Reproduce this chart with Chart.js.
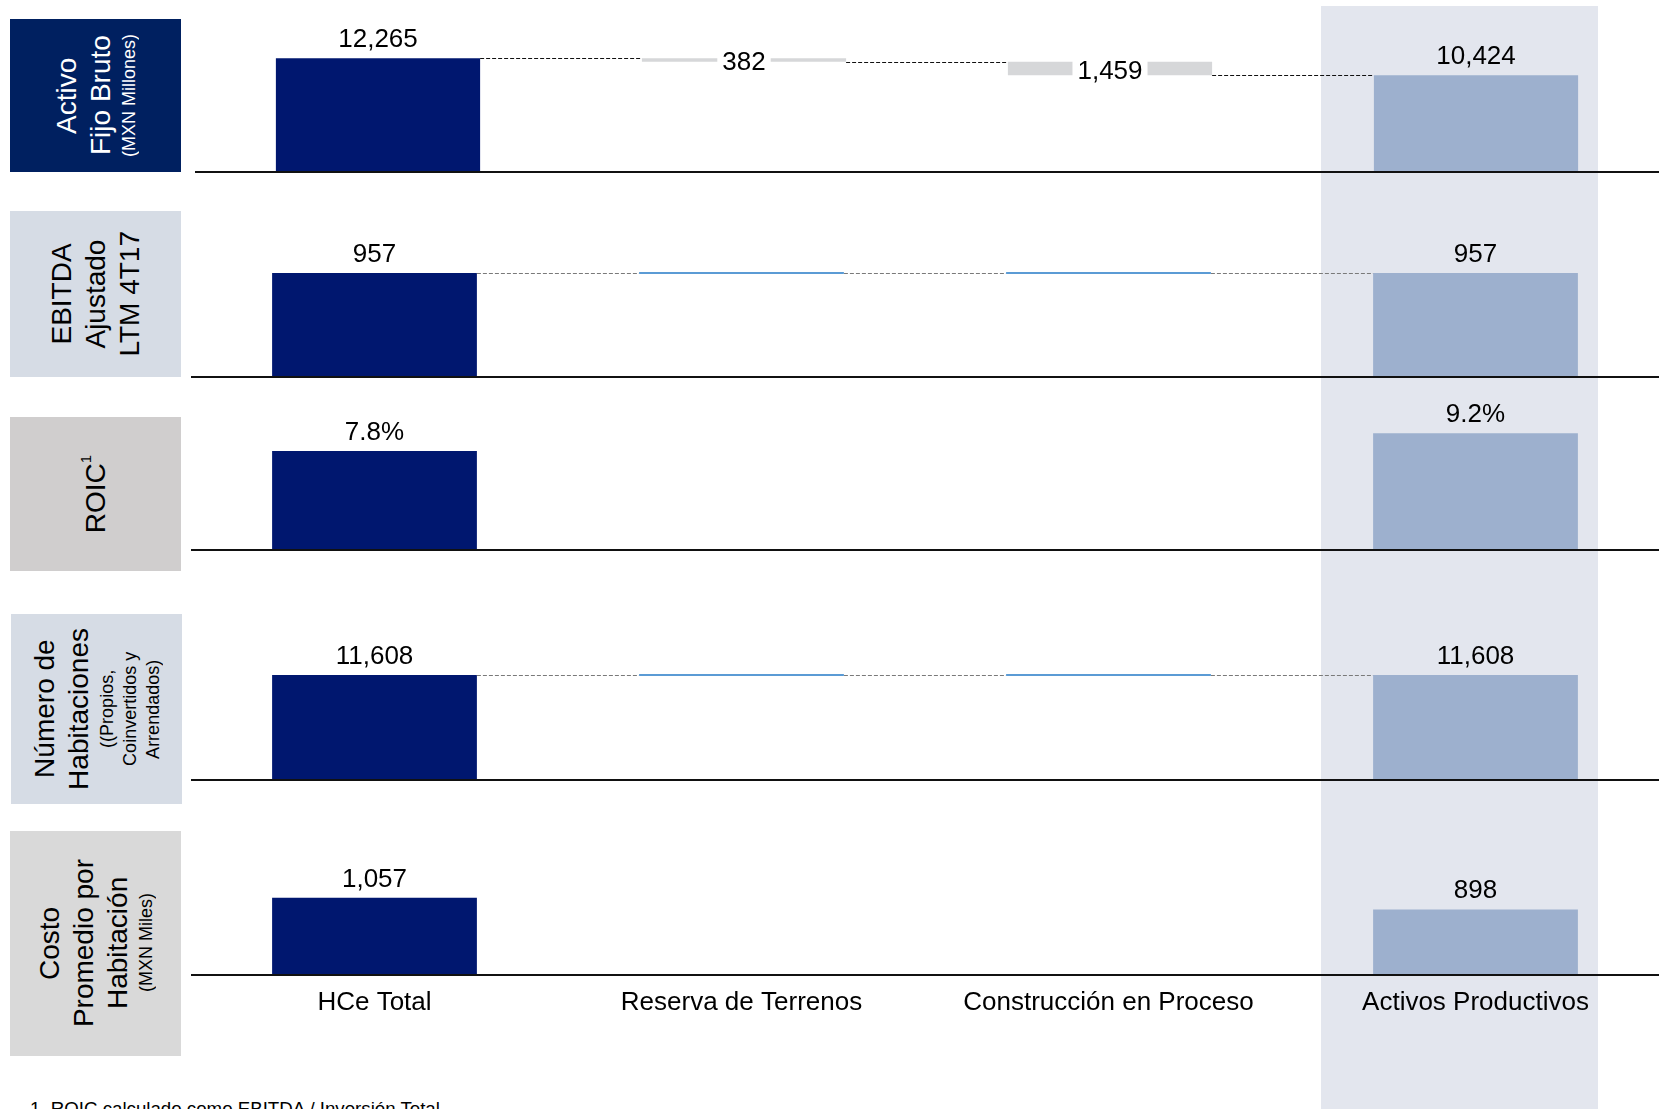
<!DOCTYPE html>
<html>
<head>
<meta charset="utf-8">
<script src="https://cdn.jsdelivr.net/npm/chart.js@4.4.1/dist/chart.umd.min.js"></script>
<style>
html,body{margin:0;padding:0;background:#fff;}
body{width:1664px;height:1109px;overflow:hidden;position:relative;font-family:"Liberation Sans",Arial,Helvetica,sans-serif;}
#band{position:absolute;left:1321px;top:6px;width:277px;height:1103px;background:#E3E6EE;}
canvas{position:absolute;}
.lbl{position:absolute;display:flex;align-items:center;justify-content:center;color:#000;}
.txt{writing-mode:vertical-rl;transform:rotate(180deg);text-align:center;white-space:nowrap;}
.m{display:block;font-size:28px;line-height:34px;}
.s{display:block;font-size:18px;line-height:23px;}
.m sup{font-size:15px;line-height:0;vertical-align:super;}
#foot{position:absolute;left:30px;top:1099px;font-size:18.7px;line-height:19px;color:#000;white-space:nowrap;}
</style>
</head>
<body>
<div id="band"></div>

<div class="lbl" style="left:10px;top:19px;width:171px;height:153px;background:#002060;color:#fff;">
  <div class="txt"><span class="m">Activo</span><span class="m">Fijo Bruto</span><span class="s">(MXN Millones)</span></div>
</div>
<div class="lbl" style="left:10px;top:211px;width:171px;height:166px;background:#D6DCE5;">
  <div class="txt"><span class="m">EBITDA</span><span class="m">Ajustado</span><span class="m">LTM 4T17</span></div>
</div>
<div class="lbl" style="left:10px;top:417px;width:171px;height:154px;background:#D0CECE;">
  <div class="txt"><span class="m">ROIC<sup>1</sup></span></div>
</div>
<div class="lbl" style="left:11px;top:614px;width:171px;height:190px;background:#D6DCE5;">
  <div class="txt"><span class="m">Número de</span><span class="m">Habitaciones</span><span class="s">((Propios,</span><span class="s">Coinvertidos y</span><span class="s">Arrendados)</span></div>
</div>
<div class="lbl" style="left:10px;top:831px;width:171px;height:225px;background:#D9D9D9;">
  <div class="txt"><span class="m">Costo</span><span class="m">Promedio por</span><span class="m">Habitación</span><span class="s">(MXN Miles)</span></div>
</div>

<div id="foot">1. ROIC calculado como EBITDA / Inversión Total</div>

<script>
// ---------------- DATA ----------------
const categories = ['HCe Total', 'Reserva de Terrenos', 'Construcción en Proceso', 'Activos Productivos'];
// Activo Fijo Bruto (MXN Millones): total, changes, total
const activoFijo = [12265, -382, -1459, 10424];
// EBITDA Ajustado LTM 4T17: total, changes, total
const ebitda = [957, 0, 0, 957];
// ROIC (%)
const roic = [7.8, null, null, 9.2];
// Número de Habitaciones: total, changes, total
const habitaciones = [11608, 0, 0, 11608];
// Costo Promedio por Habitación (MXN Miles)
const costoHab = [1057, null, null, 898];

// ---------------- STYLE ----------------
const DARK = '#00176F', LIGHT = '#9DB0CE', GREY = '#D6D7D9', BLUE = '#5B9BD5';
const FONT = '"Liberation Sans", Arial, Helvetica, sans-serif';
Chart.defaults.font.family = FONT;
Chart.defaults.color = '#000';

function fmtInt(v){ return Math.abs(v).toLocaleString('en-US'); }
function fmtPct(v){ return v.toFixed(1) + '%'; }

function build(vals){
  const ranges = [], levels = []; let run = 0;
  vals.forEach((v, i) => {
    if (v === null || v === undefined) { ranges.push(null); levels.push(null); return; }
    if (i === 0 || i === vals.length - 1) { ranges.push([0, v]); run = v; }
    else { ranges.push([Math.min(run, run + v), Math.max(run, run + v)]); run += v; }
    levels.push(run);
  });
  return { ranges, levels };
}

const decor = {
  id: 'decor',
  afterDatasetsDraw(chart, args, opts) {
    const row = opts.row;
    const ctx = chart.ctx, meta = chart.getDatasetMeta(0), ys = chart.scales.y, area = chart.chartArea;
    const n = row.values.length;
    const els = meta.data.map(e => e.getProps(['x', 'y', 'base', 'width'], true));
    ctx.save();
    // connectors
    if (row.connect) {
      ctx.setLineDash(row.dash); ctx.strokeStyle = row.conn; ctx.lineWidth = 1;
      for (let i = 0; i < n - 1; i++) {
        const a = els[i], b = els[i + 1];
        const y = Math.round(ys.getPixelForValue(row.levels[i])) + 0.5;
        ctx.beginPath(); ctx.moveTo(a.x + a.width / 2, y); ctx.lineTo(b.x - b.width / 2, y); ctx.stroke();
      }
      ctx.setLineDash([]);
    }
    // zero-change markers
    row.values.forEach((v, i) => {
      if (i > 0 && i < n - 1 && v === 0) {
        const e = els[i]; const y = ys.getPixelForValue(row.levels[i]);
        ctx.fillStyle = BLUE; ctx.fillRect(e.x - e.width / 2, Math.round(y) - 1, e.width, 2);
      }
    });
    // baseline
    const y0 = Math.round(ys.getPixelForValue(0));
    ctx.fillStyle = '#111'; ctx.fillRect(area.left, y0 - 1, area.right - area.left, 2);
    // value labels
    ctx.font = '26px ' + FONT; ctx.textAlign = 'center';
    row.values.forEach((v, i) => {
      if (v === null) return;
      const e = els[i];
      if (i === 0 || i === n - 1) {
        ctx.fillStyle = '#000'; ctx.textBaseline = 'alphabetic';
        ctx.fillText(row.fmt(v), e.x, e.y - 11);
      } else if (v !== 0) {
        const t = row.fmt(v); const w = ctx.measureText(t).width; const my = (e.y + e.base) / 2;
        ctx.fillStyle = '#fff'; ctx.fillRect(e.x - w / 2 - 5, my - 10, w + 10, 20);
        ctx.fillStyle = '#000'; ctx.textBaseline = 'middle';
        ctx.fillText(t, e.x, my + 3);
      }
    });
    ctx.restore();
  }
};

const rowDefs = [
  { values: activoFijo,   fmt: fmtInt, top: 0,   axisY: 172, refPx: 113.7, left: 195, width: 1464, connect: true,  conn: '#111', dash: [4, 2] },
  { values: ebitda,       fmt: fmtInt, top: 190, axisY: 377, refPx: 104,   left: 191, width: 1468, connect: true,  conn: '#7a7a7a', dash: [4, 2] },
  { values: roic,         fmt: fmtPct, top: 385, axisY: 550, refPx: 99,    left: 191, width: 1468, connect: false },
  { values: habitaciones, fmt: fmtInt, top: 585, axisY: 780, refPx: 105,   left: 191, width: 1468, connect: true,  conn: '#7a7a7a', dash: [4, 2] },
  { values: costoHab,     fmt: fmtInt, top: 820, axisY: 975, refPx: 77,    left: 191, width: 1468, connect: false, xlabels: true }
];

rowDefs.forEach(row => {
  const b = build(row.values);
  row.levels = b.levels;
  const extra = row.xlabels ? (26 * 1.2 + 24) : 2;
  const H = Math.round(row.axisY - row.top + extra);
  const cv = document.createElement('canvas');
  cv.width = row.width; cv.height = H;
  cv.style.left = row.left + 'px'; cv.style.top = row.top + 'px';
  cv.style.width = row.width + 'px'; cv.style.height = H + 'px';
  document.body.appendChild(cv);
  const colors = b.ranges.map((r, i) => i === 0 ? DARK : (i === categories.length - 1 ? LIGHT : GREY));
  const ch = new Chart(cv, {
    type: 'bar',
    data: {
      labels: categories,
      datasets: [{ data: b.ranges, backgroundColor: colors, borderWidth: 0, barPercentage: 0.558, categoryPercentage: 1 }]
    },
    options: {
      responsive: false, animation: false, devicePixelRatio: 1,
      layout: { padding: { left: 0, right: 0, top: 0, bottom: row.xlabels ? 0 : 2 } },
      plugins: { legend: { display: false }, tooltip: { enabled: false }, decor: { row } },
      scales: {
        x: {
          display: !!row.xlabels,
          grid: { display: false, drawTicks: false },
          border: { display: false },
          ticks: { font: { size: 26 }, color: '#000', padding: 12, maxRotation: 0, autoSkip: false }
        },
        y: { display: false, min: 0, max: row.values[0] * 2 }
      }
    },
    plugins: [decor]
  });
  // scale so the first value spans the reference pixel height
  const a = ch.chartArea;
  ch.options.scales.y.max = row.values[0] * (a.bottom - a.top) / row.refPx;
  ch.update('none');
});
</script>
</body>
</html>
